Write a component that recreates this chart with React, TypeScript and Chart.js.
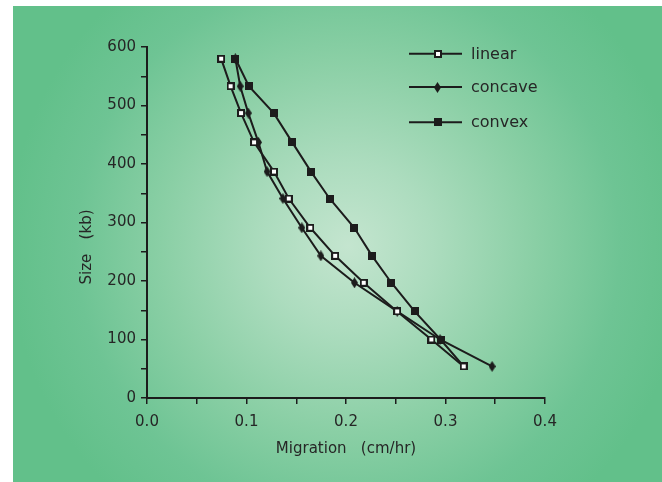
import React, { useEffect, useRef } from 'react';
import { Chart, registerables } from 'chart.js';

Chart.register(...registerables);

// ---- data ----
const SIZES_KB = [580, 533, 487, 437, 387, 341, 291, 243, 197, 148, 100, 54];
const LINEAR = [0.0745, 0.084, 0.0945, 0.1076, 0.1276, 0.1425, 0.1641, 0.1891, 0.2178, 0.2514, 0.2858, 0.3183];
const CONCAVE = [0.0888, 0.0937, 0.1018, 0.112, 0.1207, 0.1366, 0.1556, 0.1747, 0.2085, 0.2515, 0.2945, 0.3468];
const CONVEX = [0.0889, 0.1024, 0.1274, 0.146, 0.1648, 0.1835, 0.2083, 0.2262, 0.2456, 0.269, 0.295, 0.3183];
const SERIES_NAMES = ['linear', 'concave', 'convex'];
const X_TITLE = 'Migration   (cm/hr)';
const Y_TITLE = 'Size   (kb)';

const INK = '#1c1c1c';
const TEXT = '#262626';
const FONT_FAMILY = '"DejaVu Sans", "Liberation Sans", Arial, sans-serif';

function makeMarker(kind: string): HTMLCanvasElement {
  const c = document.createElement('canvas');
  const ctx = c.getContext('2d')!;
  if (kind === 'open') {
    c.width = 8; c.height = 8;
    ctx.fillStyle = INK; ctx.fillRect(0, 0, 8, 8);
    ctx.fillStyle = '#ffffff'; ctx.fillRect(2, 2, 4, 4);
  } else if (kind === 'filled') {
    c.width = 8; c.height = 8;
    ctx.fillStyle = INK; ctx.fillRect(0, 0, 8, 8);
  } else {
    c.width = 7; c.height = 11;
    ctx.fillStyle = INK;
    ctx.beginPath();
    ctx.moveTo(3.5, 0); ctx.lineTo(7, 5.5); ctx.lineTo(3.5, 11); ctx.lineTo(0, 5.5);
    ctx.closePath(); ctx.fill();
  }
  return c;
}

export default function App() {
  const ref = useRef<HTMLCanvasElement>(null);

  useEffect(() => {
    const canvas = ref.current!;
    const markers = [makeMarker('open'), makeMarker('diamond'), makeMarker('filled')];
    const seriesX = [LINEAR, CONCAVE, CONVEX];
    const orders = [0, 2, 1];

    const datasets = SERIES_NAMES.map((name, i) => ({
      label: name,
      data: seriesX[i].map((x, j) => ({ x, y: SIZES_KB[j] })),
      borderColor: INK,
      backgroundColor: INK,
      borderWidth: 2,
      pointStyle: markers[i] as any,
      pointRadius: 5,
      pointHoverRadius: 5,
      tension: 0,
      order: orders[i],
      fill: false,
    }));

    const overlay = {
      id: 'overlay',
      afterDraw(chart: any) {
        const ctx = chart.ctx as CanvasRenderingContext2D;
        const area = chart.chartArea;
        ctx.save();
        ctx.fillStyle = TEXT;
        ctx.font = `15px ${FONT_FAMILY}`;
        ctx.textAlign = 'center';
        ctx.textBaseline = 'middle';
        ctx.fillText(X_TITLE, (area.left + area.right) / 2, 449);
        ctx.save();
        ctx.translate(87, 247);
        ctx.rotate(-Math.PI / 2);
        ctx.fillText(Y_TITLE, 0, 0);
        ctx.restore();

        // legend
        const rows = [53.7, 87, 122.3];
        ctx.font = `16px ${FONT_FAMILY}`;
        ctx.textAlign = 'left';
        SERIES_NAMES.forEach((name, i) => {
          const y = rows[i];
          ctx.strokeStyle = INK;
          ctx.lineWidth = 2;
          ctx.beginPath();
          ctx.moveTo(409, y);
          ctx.lineTo(462, y);
          ctx.stroke();
          const m = markers[i];
          ctx.drawImage(m, Math.round(437.7 - m.width / 2), Math.round(y - m.height / 2));
          ctx.fillStyle = TEXT;
          ctx.fillText(name, 471, y + 1);
        });
        ctx.restore();
      },
    };

    const chart = new Chart(canvas, {
      type: 'line',
      data: { datasets },
      options: {
        animation: false,
        responsive: false,
        devicePixelRatio: 1,
        layout: { padding: { left: 0, top: 47, right: 117, bottom: 0 } },
        plugins: {
          legend: { display: false },
          tooltip: { enabled: false },
          title: { display: false },
        },
        scales: {
          x: {
            type: 'linear',
            min: 0,
            max: 0.4,
            afterFit: (s: any) => { s.height = 84; },
            border: { display: true, color: INK, width: 2 },
            grid: { display: true, drawOnChartArea: false, drawTicks: true, tickLength: 6, color: INK, lineWidth: 1.5 },
            ticks: {
              stepSize: 0.05,
              autoSkip: false,
              maxRotation: 0,
              padding: 9,
              color: TEXT,
              font: { family: FONT_FAMILY, size: 15 },
              callback: (v: any) => {
                const t = Number(v) * 10;
                return Math.abs(t - Math.round(t)) < 1e-6 ? (Math.round(t) / 10).toFixed(1) : '';
              },
            },
          },
          y: {
            type: 'linear',
            min: 0,
            max: 600,
            afterFit: (s: any) => { s.width = 147; },
            border: { display: true, color: INK, width: 2 },
            grid: { display: true, drawOnChartArea: false, drawTicks: true, tickLength: 6, color: INK, lineWidth: 1.5 },
            ticks: {
              stepSize: 50,
              autoSkip: false,
              padding: 5,
              color: TEXT,
              font: { family: FONT_FAMILY, size: 15 },
              callback: (v: any) => (Number(v) % 100 === 0 ? String(v) : ''),
            },
          },
        },
      },
      plugins: [overlay],
    });
    return () => chart.destroy();
  }, []);

  return (
    <div style={{ position: 'fixed', left: 0, top: 0, width: 662, height: 482, background: '#ffffff', overflow: 'hidden' }}>
      <div
        style={{
          position: 'absolute',
          left: 13,
          top: 6,
          width: 649,
          height: 476,
          background:
            'radial-gradient(circle 340px at 335px 240px, #c4e5cf 0%, #acdcbe 25%, #8acfa5 55%, #6ec494 80%, #62c08a 100%)',
        }}
      />
      <canvas ref={ref} width={662} height={482} style={{ position: 'absolute', left: 0, top: 0, width: 662, height: 482 }} />
    </div>
  );
}
